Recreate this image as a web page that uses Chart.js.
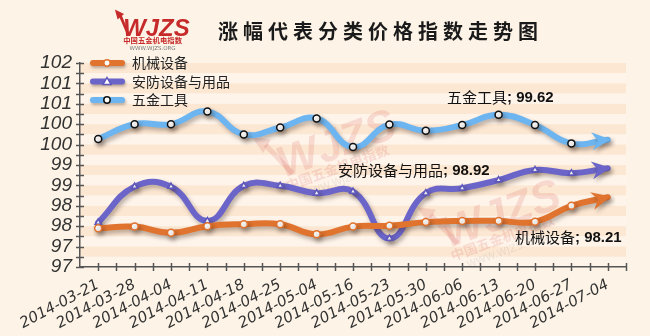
<!DOCTYPE html>
<html>
<head>
<meta charset="utf-8">
<script src="https://cdn.jsdelivr.net/npm/chart.js@4"></script>
<style>
  html, body { margin: 0; padding: 0; background: #FDF4E7; }
  #wrap { width: 650px; height: 336px; position: relative; }
</style>
</head>
<body>
<div id="wrap"><canvas id="myChart" width="650" height="336"></canvas></div>
<script>
// datos
const dates = ['2014-03-21','2014-03-28','2014-04-04','2014-04-11','2014-04-18','2014-04-25','2014-05-04',
  '2014-05-16','2014-05-23','2014-05-30','2014-06-06','2014-06-13','2014-06-20','2014-06-27','2014-07-04'];
const jixie  = [97.45, 97.49, 97.34, 97.50, 97.55, 97.55, 97.30, 97.49, 97.51, 97.60, 97.63, 97.63, 97.61, 98.00, 98.21];
const anfang = [97.59, 98.47, 98.47, 97.63, 98.49, 98.49, 98.31, 98.35, 97.20, 98.31, 98.43, 98.63, 98.88, 98.80, 98.92];
const wujin  = [99.64, 100.00, 100.00, 100.31, 99.75, 99.92, 100.14, 99.44, 99.99, 99.84, 99.98, 100.23, 99.98, 99.53, 99.62];
const seriesNames = ['机械设备', '安防设备与用品', '五金工具'];
const yTickLabels = ['97','97','98','98','99','99','100','100','101','101','102'];
const title = '涨幅代表分类价格指数走势图';

const colors = ['#E0732E', '#6B65C9', '#6DB5F0'];
const markerBorder = ['#E0732E', '#5E58BE', '#111111'];
const markerStyle = ['circle', 'triangle', 'circle'];
const cjk = '"Noto Sans CJK SC", sans-serif';

function radii(n) {
  const r = [];
  for (let i = 0; i < n; i++) r.push(i === n - 1 ? 0 : 3.5);
  return r;
}

const allData = [jixie, anfang, wujin];
const datasets = allData.map((d, i) => ({
  label: seriesNames[i],
  data: d,
  borderColor: colors[i],
  borderWidth: 6,
  borderCapStyle: 'round',
  borderJoinStyle: 'round',
  tension: 0.45,
  pointStyle: markerStyle[i],
  pointRadius: radii(d.length),
  pointBackgroundColor: '#ffffff',
  pointBorderColor: markerBorder[i],
  pointBorderWidth: 1.5
}));

// fondo, franjas, sombras, flechas, textos
const decoPlugin = {
  id: 'deco',
  beforeDraw(chart) {
    const ctx = chart.ctx;
    const a = chart.chartArea;
    const y = chart.scales.y;
    ctx.save();
    ctx.fillStyle = '#FDF4E7';
    ctx.fillRect(0, 0, chart.width, chart.height);
    let k = 0;
    for (let v = 101.5; v > 96.5; v -= 0.25) {
      const y1 = y.getPixelForValue(v);
      const y2 = y.getPixelForValue(v - 0.25);
      ctx.fillStyle = k % 2 === 0 ? '#FCE7D3' : '#FEF4EA';
      ctx.fillRect(a.left, y1, a.right - a.left, y2 - y1);
      k++;
    }
    // marca de agua
    drawLogo(ctx, 320, 145, 1.7, 0.13, -0.35);
    drawLogo(ctx, 485, 215, 1.7, 0.13, -0.35);
    ctx.restore();
  },
  beforeDatasetDraw(chart) {
    const ctx = chart.ctx;
    ctx.save();
    ctx.shadowColor = 'rgba(60,40,30,0.35)';
    ctx.shadowBlur = 4;
    ctx.shadowOffsetX = 2;
    ctx.shadowOffsetY = 3;
  },
  afterDatasetDraw(chart, args) {
    const ctx = chart.ctx;
    const meta = args.meta;
    const pts = meta.data;
    const last = pts[pts.length - 1];
    let dx = last.x - (last.cp1x !== undefined ? last.cp1x : pts[pts.length - 2].x);
    let dy = last.y - (last.cp1y !== undefined ? last.cp1y : pts[pts.length - 2].y);
    const len = Math.sqrt(dx * dx + dy * dy) || 1;
    dx /= len; dy /= len;
    const nx = -dy, ny = dx;
    const tx = last.x + dx * 3, ty = last.y + dy * 3;
    ctx.fillStyle = colors[args.index];
    ctx.beginPath();
    ctx.moveTo(tx, ty);
    ctx.lineTo(tx - dx * 19 + nx * 9, ty - dy * 19 + ny * 9);
    ctx.lineTo(tx - dx * 13, ty - dy * 13);
    ctx.lineTo(tx - dx * 19 - nx * 9, ty - dy * 19 - ny * 9);
    ctx.closePath();
    ctx.fill();
    ctx.restore();
  },
  afterDraw(chart) {
    const ctx = chart.ctx;
    const a = chart.chartArea;
    const x = chart.scales.x;
    const y = chart.scales.y;
    ctx.save();
    // marcas de los ejes
    ctx.strokeStyle = '#555';
    ctx.lineWidth = 1.5;
    ctx.beginPath();
    for (let v = 96.5; v <= 101.51; v += 0.25) {
      const py = Math.round(y.getPixelForValue(v)) + 0.5;
      ctx.moveTo(a.left - 4, py);
      ctx.lineTo(a.left + 4, py);
    }
    const half = (x.getPixelForValue(1) - x.getPixelForValue(0)) / 2;
    for (let i = 0; i < dates.length; i++) {
      const px1 = Math.round(x.getPixelForValue(i)) + 0.5;
      const px2 = Math.round(x.getPixelForValue(i) + half) + 0.5;
      ctx.moveTo(px1, a.bottom - 4); ctx.lineTo(px1, a.bottom + 4);
      ctx.moveTo(px2, a.bottom - 4); ctx.lineTo(px2, a.bottom + 4);
    }
    ctx.stroke();

    // titulo
    ctx.fillStyle = '#1a1a1a';
    ctx.font = 'bold 20px ' + cjk;
    ctx.letterSpacing = '5px';
    ctx.textBaseline = 'middle';
    ctx.textAlign = 'left';
    ctx.fillText(title, 218, 31);
    ctx.letterSpacing = '0px';

    drawLogo(ctx, 148, 26, 0.92, 1, 0);

    // leyenda
    chart.data.datasets.forEach((ds, i) => {
      const ly = 63 + i * 18.5;
      ctx.save();
      ctx.shadowColor = 'rgba(60,40,30,0.35)';
      ctx.shadowBlur = 3;
      ctx.shadowOffsetX = 1;
      ctx.shadowOffsetY = 2;
      ctx.strokeStyle = colors[i];
      ctx.lineWidth = 6;
      ctx.lineCap = 'round';
      ctx.beginPath();
      ctx.moveTo(93, ly);
      ctx.lineTo(122, ly);
      ctx.stroke();
      ctx.restore();
      ctx.fillStyle = '#fff';
      ctx.strokeStyle = markerBorder[i];
      ctx.lineWidth = 1.5;
      ctx.beginPath();
      if (markerStyle[i] === 'triangle') {
        ctx.moveTo(107, ly - 4); ctx.lineTo(111, ly + 3); ctx.lineTo(103, ly + 3); ctx.closePath();
      } else {
        ctx.arc(107, ly, 3.2, 0, Math.PI * 2);
      }
      ctx.fill();
      ctx.stroke();
      ctx.fillStyle = '#222';
      ctx.font = '14px ' + cjk;
      ctx.textBaseline = 'middle';
      ctx.fillText(ds.label, 132, ly);
    });

    // etiquetas finales
    const notes = [[515, 237], [338, 170], [447, 97]];
    allData.forEach((d, i) => {
      const name = seriesNames[i];
      ctx.font = '15px ' + cjk;
      ctx.fillStyle = '#111';
      ctx.textBaseline = 'middle';
      ctx.fillText(name, notes[i][0], notes[i][1]);
      const w = ctx.measureText(name).width;
      ctx.font = 'bold 15px "Liberation Sans", Arial, sans-serif';
      ctx.fillText('; ' + d[d.length - 1].toFixed(2), notes[i][0] + w, notes[i][1] + 1);
    });
    ctx.restore();
  }
};

function drawLogo(ctx, cx, cy, s, alpha, rot) {
  ctx.save();
  ctx.translate(cx, cy);
  ctx.rotate(rot);
  ctx.scale(s, s);
  ctx.globalAlpha = alpha;
  ctx.fillStyle = '#C62A2A';
  ctx.strokeStyle = '#C62A2A';
  // flecha del logo
  ctx.lineWidth = 3;
  ctx.beginPath();
  ctx.moveTo(-21, 10);
  ctx.lineTo(-30, -11);
  ctx.stroke();
  ctx.beginPath();
  ctx.moveTo(-36, -18);
  ctx.lineTo(-26, -13);
  ctx.lineTo(-33, -7);
  ctx.closePath();
  ctx.fill();
  ctx.font = 'italic bold 26px "Liberation Sans Narrow", "Liberation Sans", sans-serif';
  ctx.textAlign = 'left';
  ctx.textBaseline = 'alphabetic';
  ctx.fillText('WJZS', -27, 11);
  ctx.font = 'bold 8px ' + cjk;
  ctx.textAlign = 'center';
  ctx.fillText('中国五金机电指数', 5, 19);
  ctx.fillStyle = '#777';
  ctx.font = '6px "DejaVu Sans", sans-serif';
  ctx.fillText('WWW.WJZS.ORG', 5, 26);
  ctx.restore();
}

const ctx = document.getElementById('myChart');

new Chart(ctx, {
  type: 'line',
  data: {
    labels: dates,
    datasets: datasets
  },
  options: {
    responsive: false,
    animation: false,
    devicePixelRatio: 1,
    layout: { padding: { top: 63, right: 24, left: 0, bottom: 0 } },
    plugins: {
      legend: { display: false },
      tooltip: { enabled: false }
    },
    scales: {
      x: {
        type: 'category',
        offset: true,
        grid: { display: false, drawTicks: false },
        border: { display: true, color: '#555', width: 1.5 },
        ticks: {
          autoSkip: false,
          minRotation: 28,
          maxRotation: 28,
          padding: 9,
          color: '#333',
          font: { family: '"DejaVu Sans", sans-serif', size: 15, style: 'italic' }
        },
        afterFit(scale) { scale.height = 69; }
      },
      y: {
        min: 96.5,
        max: 101.5,
        grid: { display: false, drawTicks: false },
        border: { display: true, color: '#555', width: 1.5 },
        ticks: {
          autoSkip: false,
          stepSize: 0.5,
          padding: 8,
          color: '#333',
          font: { family: '"Liberation Sans Narrow", "Liberation Sans", sans-serif', size: 19, style: 'italic' },
          callback: (value, index) => yTickLabels[index]
        },
        afterFit(scale) { scale.width = 80; }
      }
    }
  },
  plugins: [decoPlugin]
});
</script>
</body>
</html>
